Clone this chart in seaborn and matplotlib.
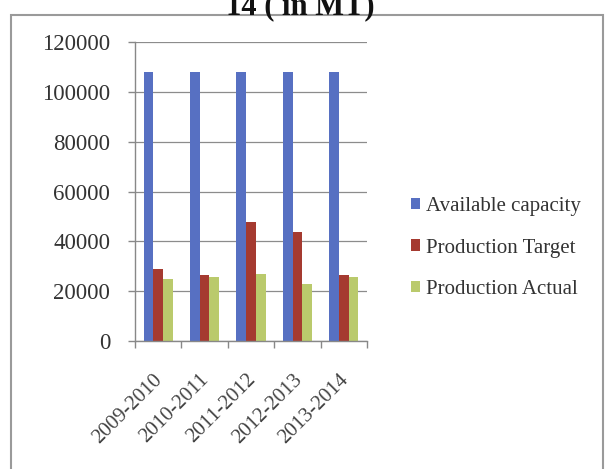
import matplotlib
matplotlib.use("Agg")
import matplotlib.pyplot as plt
from matplotlib.patches import Rectangle
from matplotlib.ticker import FixedLocator
from matplotlib.transforms import ScaledTranslation
import seaborn as sns
import pandas as pd

years = ["2009-2010", "2010-2011", "2011-2012", "2012-2013", "2013-2014"]
available_capacity = [108000, 108000, 108000, 108000, 108000]
production_target = [29000, 26400, 47700, 43700, 26400]
production_actual = [25000, 25800, 27000, 22800, 25800]
series_names = ["Available capacity", "Production Target", "Production Actual"]
colors = ["#5770C2", "#A53A30", "#BACA6C"]
yticks = [0, 20000, 40000, 60000, 80000, 100000, 120000]
title_tail = "14 ( in MT)"

rows = []
for name, vals in zip(series_names, [available_capacity, production_target, production_actual]):
    for y, v in zip(years, vals):
        rows.append({"Year": y, "Series": name, "Value": v})
df = pd.DataFrame(rows)

sns.set_theme(style="white")
plt.rcParams["font.family"] = ["Liberation Serif", "DejaVu Serif"]

fig = plt.figure(figsize=(6.05, 4.69), dpi=100)
ax = fig.add_axes([135/605, 1-341/469, (367-135)/605, (341-42.3)/469])

sns.barplot(data=df, x="Year", y="Value", hue="Series", palette=colors,
            width=0.63, gap=0, saturation=1, ax=ax, errorbar=None, legend=True,
            linewidth=0)

ax.set_ylim(0, 120000)
ax.set_xlim(-0.5, 4.5)
ax.set_yticks(yticks)
ax.set_yticklabels([str(t) for t in yticks], fontsize=16.5, color="#333333")
ax.yaxis.grid(True, color="#8c8c8c", linewidth=0.9)
ax.set_axisbelow(True)
ax.set_xlabel("")
ax.set_ylabel("")
ax.set_xticks(range(len(years)))
ax.set_xticklabels(years, rotation=45, ha="right", va="top", rotation_mode="anchor",
                   fontsize=15, color="#444444")
ax.tick_params(axis="x", which="major", length=0, pad=21)
shift = ScaledTranslation(-5/100, 0, fig.dpi_scale_trans)
for lab in ax.get_xticklabels():
    lab.set_transform(lab.get_transform() + shift)
ax.xaxis.set_minor_locator(FixedLocator([i - 0.5 for i in range(len(years) + 1)]))
ax.tick_params(axis="x", which="minor", length=5, color="#888888", width=1, bottom=True, direction="out")
ax.tick_params(axis="y", which="major", length=5, color="#888888", width=1, left=True, direction="out", pad=13)
for s in ["top", "right"]:
    ax.spines[s].set_visible(False)
for s in ["left", "bottom"]:
    ax.spines[s].set_color("#888888")
    ax.spines[s].set_linewidth(1)

handles, labels = ax.get_legend_handles_labels()
ax.legend_.remove()
fig.legend(handles, labels, loc="center left", bbox_to_anchor=(392/605, 1-248/469),
           frameon=False, fontsize=15, handlelength=0.45, handleheight=0.45,
           handletextpad=0.3, labelspacing=1.08, labelcolor="#333333")

fig.patches.append(Rectangle((11/605, -0.1), (603-11)/605, 1.1 - 15.5/469,
                             transform=fig.transFigure, fill=False,
                             edgecolor="#9a9a9a", linewidth=1.5))

fig.text(300/605, 1-14/469, title_tail, ha="center", va="baseline",
         fontsize=22, fontweight="bold", color="#111111")

fig.savefig("out.png", dpi=100)
